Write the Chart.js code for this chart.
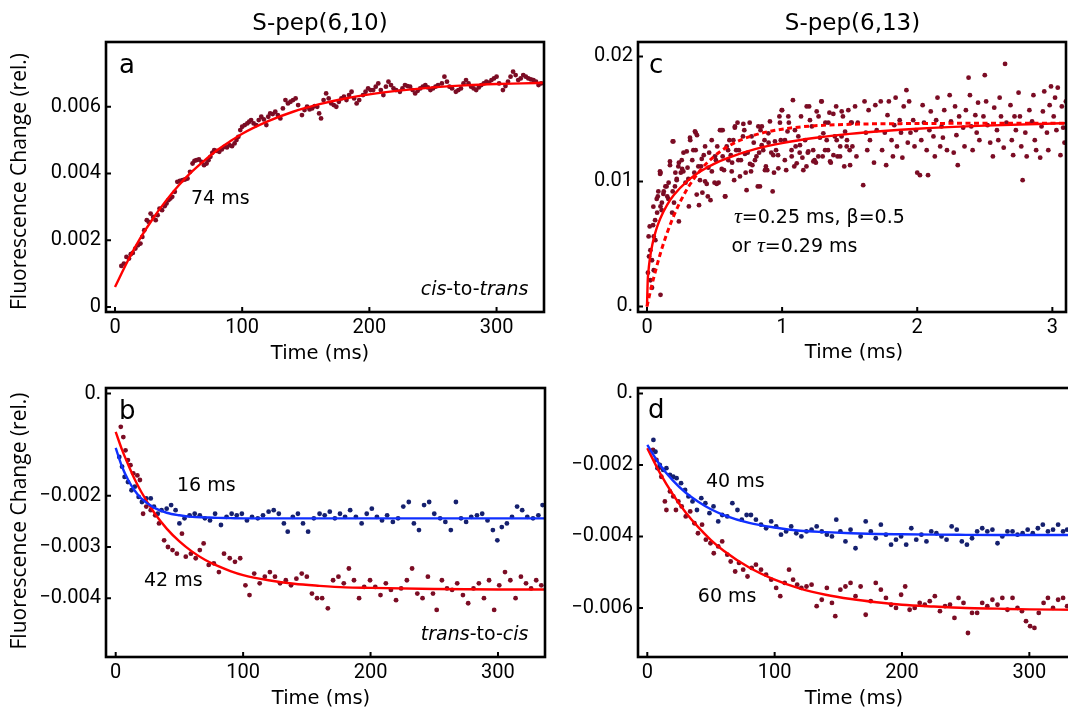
<!DOCTYPE html>
<html lang="en">
<head>
<meta charset="UTF-8">
<title>S-pep fluorescence kinetics</title>
<script src="https://cdn.jsdelivr.net/npm/chart.js"></script>
<style>
  html, body { margin: 0; padding: 0; background: #fff; overflow: hidden; }
  body { width: 1068px; height: 708px; position: relative; }
  canvas { position: absolute; }
</style>
</head>
<body>
<canvas id="panelA"></canvas>
<canvas id="panelB"></canvas>
<canvas id="panelC"></canvas>
<canvas id="panelD"></canvas>

<script>
// all signal values are in units of 1e-3 (fluorescence change, rel.)

// tick positions and labels
var msTicks = [0, 100, 200, 300];
var msTickLabels = ['0', '100', '200', '300'];
var cXTicks = [0, 1, 2, 3];
var cXTickLabels = ['0', '1', '2', '3'];
var aYTicks = [0, 2, 4, 6];
var aYTickLabels = ['0', '0.002', '0.004', '0.006'];
var bYTicks = [-4, -3, -2, 0];
var bYTickLabels = ['\u22120.004', '\u22120.003', '\u22120.002', '0.'];
var cYTicks = [0, 10, 20];
var cYTickLabels = ['0.', '0.01', '0.02'];
var dYTicks = [-6, -4, -2, 0];
var dYTickLabels = ['\u22120.006', '\u22120.004', '\u22120.002', '0.'];

// panel a: cis-to-trans, S-pep(6,10)  [time ms, signal]
var aData = [[5,1.23],[7,1.30],[9,1.5],[11,1.45],[12.4,1.58],[14,1.62],[16,1.75],[18,1.85],[20,1.9],[21.5,2.1],
  [23,2.3],[25,2.6],[26.5,2.55],[28,2.8],[30,2.7],[32,2.6],[33.5,2.75],[35,2.95],[37,2.9],[39,3.02],
  [40.5,3.1],[42,3.2],[43.5,3.25],[45,3.3],[47,3.45],[49,3.75],[51,3.78],[53,3.8],[55,3.82],[57,3.85],
  [59,4.05],[61,4.3],[62.5,4.38],[64,4.4],[66,4.42],[68,4.35],[70,4.25],[72,4.3],[73.5,4.4],[75,4.5],
  [76.5,4.62],[78,4.7],[80,4.68],[82,4.65],[84,4.72],[86,4.8],[88,4.78],[90,4.85],[92,4.82],[94,4.9],
  [95.5,5.0],[97,5.1],[98.5,5.3],[100,5.4],[102,5.45],[104,5.5],[105.5,5.55],[107,5.6],[109,5.5],[111,5.45],
  [113,5.6],[115,5.7],[117,5.62],[119,5.45],[120.5,5.7],[122,5.8],[124,5.78],[126,5.85],[128,5.75],[130,5.65],
  [132,5.95],[134,6.2],[136,6.1],[138,6.15],[140,6.2],[142,6.25],[144,6.05],[147,5.75],[149,5.9],[151,6.0],
  [153,5.92],[155,5.95],[157,6.02],[159,6.0],[160.5,5.8],[162,5.65],[164,6.2],[166,6.4],[168,6.25],[170,6.1],
  [172,6.05],[174,6.0],[176,6.15],[178,6.25],[180,6.3],[182,6.2],[184,6.35],[186,6.45],[188,6.25],[190,6.1],
  [192,6.2],[195,6.35],[197,6.45],[199,6.55],[201,6.5],[203,6.5],[205,6.6],[207,6.7],[209,6.5],[211,6.35],
  [213,6.6],[215,6.75],[217,6.65],[219,6.55],[221,6.5],[224,6.45],[226,6.55],[228,6.65],[230,6.62],[232,6.6],
  [234,6.5],[236,6.4],[238,6.48],[240,6.55],[242,6.6],[244,6.65],[246,6.58],[248,6.5],[250,6.55],[252,6.6],
  [254,6.65],[257,6.7],[259,6.9],[261,6.75],[263,6.6],[265,6.55],[268,6.45],[270,6.5],[272,6.55],[274,6.7],
  [276,6.8],[278,6.7],[280,6.6],[282,6.55],[284,6.5],[286,6.58],[288,6.65],[290,6.7],[292,6.75],[294,6.72],
  [296,6.8],[298,6.85],[300,6.9],[302,6.7],[305,6.5],[307,6.62],[309,6.75],[311,6.9],[313,7.05],[315,6.95],
  [317,6.8],[319,6.85],[321,6.95],[323,6.9],[325,6.85],[327,6.82],[329,6.8],[331,6.75],[333,6.65],[335,6.7]];
var aFitTime = [0, 10, 20, 30, 40, 50, 60, 70, 80, 90, 100, 120, 140, 160, 180, 200, 225, 250, 275, 300, 320, 338];
var aFitSignal = [0.60, 1.38, 2.07, 2.66, 3.18, 3.64, 4.04, 4.38, 4.69, 4.95, 5.19, 5.56, 5.85, 6.07, 6.24, 6.37, 6.49, 6.58, 6.64, 6.68, 6.70, 6.72];

// panel b: trans-to-cis, S-pep(6,10)
var bBlue = [[2.8,-1.24],[5,-1.43],[7,-1.63],[9.6,-1.73],[12.4,-1.89],[15,-1.82],[18,-2.02],[20.6,-2.12],[24,-2.05],[27.5,-2.05],
  [30,-2.21],[33,-2.35],[36,-2.28],[40,-2.25],[43.5,-2.18],[47,-2.28],[50,-2.54],[54,-2.44],[58,-2.38],[62,-2.35],
  [66,-2.38],[70,-2.44],[74,-2.48],[78,-2.35],[82.6,-2.57],[87,-2.41],[91,-2.35],[95,-2.38],[99,-2.35],[103,-2.48],
  [107,-2.41],[111.5,-2.44],[115.6,-2.38],[120,-2.31],[124,-2.28],[128,-2.35],[132,-2.54],[135,-2.70],[139,-2.41],[143,-2.35],
  [147,-2.54],[151,-2.70],[155.5,-2.44],[160,-2.35],[164,-2.38],[168,-2.31],[172,-2.44],[176,-2.35],[180,-2.41],[184,-2.28],
  [188.5,-2.41],[193,-2.54],[197,-2.35],[201,-2.25],[205,-2.41],[209,-2.48],[213,-2.38],[217.5,-2.51],[221.6,-2.44],[225.7,-2.21],
  [230,-2.12],[234,-2.54],[238,-2.67],[242,-2.18],[246,-2.12],[250,-2.35],[254.6,-2.44],[258.7,-2.51],[263,-2.67],[267,-2.12],
  [271,-2.44],[275,-2.51],[279,-2.41],[283.5,-2.38],[287.6,-2.35],[291.8,-2.48],[296,-2.67],[299.5,-2.87],[303,-2.61],[307,-2.54],
  [311,-2.41],[315,-2.21],[319,-2.28],[323,-2.41],[327.5,-2.44],[331.7,-2.38],[335,-2.18]];
var bRed = [[4,-0.65],[6,-0.85],[7.7,-1.11],[9.6,-1.30],[11.6,-1.40],[13.8,-1.56],[17,-1.60],[19,-1.69],[21.5,-2.35],[24,-2.21],
  [27.5,-2.28],[31,-2.38],[34,-2.54],[38,-2.87],[41,-3.0],[44.6,-3.06],[48,-3.13],[52,-2.74],[55,-3.19],[59,-3.13],
  [62.8,-3.22],[66,-3.06],[69,-2.93],[73,-3.35],[77,-3.32],[81,-3.49],[85,-3.13],[89.5,-3.22],[93.6,-3.29],[97.7,-3.22],
  [101.8,-3.75],[105,-3.94],[108.7,-3.52],[113,-3.71],[117,-3.58],[121,-3.49],[125,-3.58],[129,-3.71],[133.5,-3.65],[137.6,-3.75],
  [141.8,-3.62],[146,-3.52],[150,-3.58],[154,-3.91],[158,-4.0],[162,-4.0],[166.5,-4.2],[170.6,-3.65],[174.8,-3.58],[179,-3.71],
  [183,-3.42],[187,-3.65],[191,-4.0],[195,-3.78],[199.6,-3.65],[203.7,-3.78],[207.8,-3.94],[212,-3.71],[216,-3.84],[220,-4.04],
  [224,-3.81],[228.5,-3.65],[232.6,-3.42],[236.7,-3.91],[240.8,-4.0],[245,-3.58],[249,-3.91],[251.9,-4.23],[256,-3.65],[260,-3.81],
  [264,-3.84],[268,-3.71],[272.5,-3.94],[276.6,-4.10],[280.8,-3.81],[285,-3.71],[289,-4.0],[293,-3.65],[297,-4.23],[301,-3.75],
  [305.5,-3.49],[309.7,-3.65],[313.8,-4.0],[318,-3.58],[322,-3.71],[326,-3.81],[330,-3.65],[334,-3.75]];
var bFitTime = [0, 5, 10, 15, 20, 30, 40, 50, 60, 70, 80, 90, 100, 120, 140, 160, 180, 200, 250, 300, 338];
var bRedFit = [-0.75, -1.10, -1.40, -1.68, -1.92, -2.32, -2.64, -2.89, -3.09, -3.25, -3.37, -3.47, -3.55, -3.65, -3.72, -3.76, -3.79, -3.80, -3.82, -3.83, -3.83];
var bBlueFit = [-1.06, -1.43, -1.70, -1.90, -2.05, -2.23, -2.33, -2.38, -2.41, -2.42, -2.43, -2.435, -2.44, -2.44, -2.44, -2.44, -2.44, -2.44, -2.44, -2.44, -2.44];

// panel c: cis-to-trans, S-pep(6,13), time in ms
var cData = [[0.007,2.7],[0.012,5.6],[0.015,4.0],[0.02,6.4],[0.025,4.5],[0.025,2.1],[0.037,3.7],[0.037,1.5],[0.045,6.5],[0.05,5.6],
  [0.05,2.9],[0.06,6.9],[0.062,5.3],[0.075,7.5],[0.08,8.8],[0.097,10.6],[0.1,0.93],[0.1,8.0],[0.1,10.7],[0.11,8.3],
  [0.124,9.2],[0.136,9.6],[0.15,8.8],[0.16,9.9],[0.17,11.3],[0.186,7.5],[0.19,9.2],[0.19,13.2],[0.2,8.3],[0.21,10.7],
  [0.22,10.1],[0.236,6.8],[0.236,11.5],[0.25,10.7],[0.26,11.0],[0.27,12.3],[0.285,9.9],[0.3,11.1],[0.31,8.0],[0.32,13.3],
  [0.335,11.7],[0.35,10.7],[0.36,12.5],[0.36,13.9],[0.37,13.7],[0.385,8.1],[0.4,11.2],[0.41,9.1],[0.42,12.1],[0.43,10.0],
  [0.45,8.8],[0.46,12.3],[0.47,8.5],[0.48,10.8],[0.5,9.9],[0.51,11.7],[0.52,12.8],[0.53,9.9],[0.55,14.1],[0.56,12.0],
  [0.56,14.1],[0.57,10.9],[0.58,8.8],[0.6,12.5],[0.61,13.3],[0.62,12.1],[0.63,11.5],[0.645,10.1],[0.65,14.3],[0.66,12.5],
  [0.67,14.7],[0.68,12.5],[0.695,11.7],[0.71,13.6],[0.72,14.1],[0.73,10.7],[0.745,12.3],[0.76,14.7],[0.77,10.8],[0.78,11.3],
  [0.79,13.1],[0.81,12.0],[0.82,9.6],[0.83,12.3],[0.84,14.1],[0.85,14.4],[0.86,12.5],[0.87,13.3],[0.88,11.2],[0.89,10.9],
  [0.9,13.1],[0.92,12.3],[0.93,9.2],[0.94,10.7],[0.955,12.5],[0.97,12.1],[0.98,15.2],[0.99,13.3],[1.0,15.7],[1.02,11.7],
  [1.03,10.9],[1.04,14.0],[1.05,14.7],[1.07,12.5],[1.08,16.5],[1.09,11.2],[1.1,12.8],[1.12,13.6],[1.13,12.3],[1.14,15.2],
  [1.15,11.9],[1.17,13.3],[1.18,11.2],[1.19,12.3],[1.2,16.0],[1.22,14.4],[1.23,12.5],[1.24,11.7],[1.25,11.5],[1.27,15.2],
  [1.28,13.5],[1.29,16.4],[1.3,12.0],[1.32,14.7],[1.33,13.3],[1.34,12.5],[1.35,15.5],[1.36,11.5],[1.38,12.1],[1.39,13.6],
  [1.4,16.0],[1.41,12.0],[1.43,12.8],[1.44,13.6],[1.45,15.2],[1.46,11.2],[1.48,13.3],[1.49,15.7],[1.5,12.5],[1.51,14.7],
  [0.047,7.98],[0.096,10.8],[0.084,9.2],[0.121,9.0],[0.145,9.6],[0.158,8.6],[0.17,11.6],[0.195,13.2],[0.207,9.6],[0.22,10.2],
  [0.232,11.2],[0.257,11.7],[0.269,10.8],[0.294,12.4],[0.306,10.2],[0.318,13.5],[0.343,12.5],[0.355,14.0],[0.368,8.95],[0.38,11.2],
  [0.392,10.1],[0.405,11.8],[0.43,12.8],[0.442,9.8],[0.454,11.1],[0.479,13.3],[0.503,12.0],[0.516,9.8],[0.54,14.1],[0.553,11.0],
  [0.577,8.8],[0.59,12.8],[0.602,11.7],[0.627,10.8],[0.639,13.3],[0.651,14.4],[0.676,11.7],[0.688,10.4],[0.713,14.6],[0.725,12.2],
  [0.737,9.3],[0.762,11.4],[0.774,13.6],[0.799,11.7],[0.824,14.4],[0.836,9.6],[0.849,12.9],[0.873,10.9],[0.898,13.85],[0.91,14.8],
  [0.935,12.1],[0.947,13.2],[0.972,11.05],[0.984,14.7],[0.997,15.7],[1.021,13.3],[1.046,15.2],[1.071,12.0],[1.095,14.1],[1.108,11.45],
  [1.132,12.9],[1.157,10.9],[1.182,16.0],[1.194,12.4],[1.206,14.9],[1.231,11.6],[1.256,15.6],[1.268,12.0],[1.293,16.4],[1.305,13.85],
  [1.318,12.5],[1.342,14.7],[1.355,11.6],[1.379,15.4],[1.404,13.3],[1.429,12.0],[1.441,15.6],[1.466,13.98],[1.478,12.8],[1.503,11.3],
  [1.515,14.7],[0.109,7.7],[0.072,8.6],
  [1.52,12.8],[1.54,16.0],[1.55,12.0],[1.56,14.7],[1.6,9.7],[1.61,16.4],[1.62,13.9],[1.63,12.5],[1.64,15.7],[1.65,13.3],
  [1.68,11.5],[1.69,16.1],[1.7,14.1],[1.73,16.4],[1.74,12.5],[1.76,13.9],[1.77,11.3],[1.78,15.3],[1.79,16.4],[1.81,13.3],
  [1.82,12.0],[1.83,14.5],[1.84,16.7],[1.85,12.8],[1.87,14.9],[1.88,13.9],[1.89,11.9],[1.9,16.0],[1.92,17.3],[1.93,13.1],
  [1.94,16.4],[1.95,13.9],[1.97,14.9],[1.98,12.8],[1.99,14.1],[2.0,10.7],[2.02,10.5],[2.03,13.3],[2.04,16.1],[2.05,14.7],
  [2.07,12.5],[2.08,10.5],[2.09,14.1],[2.1,15.6],[2.12,13.6],[2.13,12.0],[2.14,14.9],[2.15,16.7],[2.17,12.8],[2.18,14.4],
  [2.19,13.5],[2.2,15.7],[2.22,12.5],[2.24,16.9],[2.25,14.8],[2.27,12.3],[2.28,16.0],[2.29,13.7],[2.3,11.3],[2.31,15.2],
  [2.34,14.3],[2.35,12.8],[2.36,15.7],[2.38,18.3],[2.39,16.9],[2.4,14.4],[2.41,12.5],[2.43,15.3],[2.44,13.9],[2.45,16.3],
  [2.46,13.3],[2.49,15.2],[2.5,18.5],[2.51,16.4],[2.52,14.5],[2.54,13.1],[2.56,12.0],[2.57,15.9],[2.59,14.1],[2.6,13.3],
  [2.61,16.7],[2.62,15.2],[2.64,12.7],[2.65,19.4],[2.66,14.7],[2.69,16.1],[2.7,13.3],[2.71,12.1],[2.72,15.2],[2.73,14.1],
  [2.75,17.1],[2.76,15.2],[2.77,12.8],[2.78,10.1],[2.8,13.9],[2.81,12.0],[2.83,15.7],[2.85,14.8],[2.86,16.9],[2.87,13.3],
  [2.88,12.5],[2.91,11.9],[2.92,14.4],[2.93,15.6],[2.94,17.2],[2.96,13.9],[2.97,12.5],[2.98,16.1],[2.99,17.6],[3.01,15.2],
  [3.02,16.7],[3.03,14.1],[3.04,17.5],[3.06,12.1],[3.07,16.0],[3.08,14.3],[3.09,13.1],[3.1,16.4]];
var cFitTime = [0, 0.005, 0.01, 0.02, 0.04, 0.06, 0.08, 0.1, 0.15, 0.2, 0.3, 0.4, 0.5, 0.6, 0.8, 1.0, 1.25, 1.5, 1.75, 2.0, 2.5, 3.0, 3.11];
var cStretchedFit = [0, 1.99, 2.74, 3.72, 4.98, 5.85, 6.52, 7.08, 8.14, 8.93, 10.05, 10.84, 11.43, 11.89, 12.58, 13.06, 13.49, 13.80, 14.03, 14.21, 14.46, 14.63, 14.66];
var cExpTime = [0, 0.02, 0.05, 0.1, 0.15, 0.2, 0.25, 0.3, 0.4, 0.5, 0.6, 0.7, 0.8, 0.9, 1.0, 1.2, 1.5, 2.0, 2.5, 3.11];
var cExpFit = [0, 0.98, 2.31, 4.28, 5.92, 7.30, 8.46, 9.45, 10.96, 12.04, 12.80, 13.34, 13.72, 13.99, 14.18, 14.42, 14.57, 14.63, 14.65, 14.65];

// panel d: trans-to-cis, S-pep(6,13)
var dBlue = [[4.8,-1.30],[6.4,-1.63],[8,-2.09],[9.8,-2.0],[12.5,-2.14],[15,-2.09],[17.8,-2.28],[20.4,-2.33],[23,-2.37],[26.5,-2.51],
  [29.7,-2.70],[32.3,-2.88],[35.5,-3.02],[39,-3.26],[42.4,-2.93],[45.6,-3.07],[48.8,-3.35],[52,-3.16],[55.7,-3.58],[58.8,-3.40],
  [62.8,-3.44],[66.8,-3.07],[70.8,-3.26],[74.2,-3.53],[78,-3.40],[81.4,-3.40],[85.3,-3.53],[89.3,-3.67],[93.3,-3.77],[97.3,-3.58],
  [101.2,-3.72],[105,-3.95],[109,-3.86],[113,-3.72],[117,-3.91],[121,-4.0],[125,-3.86],[129,-3.81],[133,-3.72],[137,-3.86],
  [141,-3.95],[145,-4.0],[148.4,-3.53],[151.6,-3.86],[155.6,-4.14],[159.6,-3.81],[163.5,-4.33],[167.5,-4.0],[171.5,-3.58],[175.5,-3.86],
  [179.4,-4.05],[183.4,-3.67],[187.4,-3.95],[191.4,-4.23],[195.3,-4.09],[199.3,-4.0],[203.3,-4.23],[207.3,-3.77],[211.2,-4.09],[215.2,-3.95],
  [219.2,-4.14],[223,-3.86],[227,-3.91],[231,-4.0],[235,-4.09],[239,-3.72],[243,-3.81],[247,-4.14],[251,-4.23],[255,-4.05],
  [259,-3.86],[263,-3.77],[267,-3.86],[271,-3.81],[275,-4.19],[278.8,-4.0],[282.8,-3.86],[286.8,-3.86],[290.7,-3.95],[294.7,-3.91],
  [298.7,-3.81],[302.7,-3.91],[306.7,-3.77],[310.6,-3.67],[314.6,-3.86],[318.6,-3.81],[322.6,-3.67],[326.5,-3.86],[329.7,-3.81]];
var dRed = [[4.5,-1.58],[7.2,-1.86],[9,-2.09],[11,-2.33],[13.8,-3.02],[15,-3.26],[17.8,-2.74],[20.4,-2.88],[22.5,-3.26],[24.4,-3.02],
  [27,-3.16],[30.2,-3.44],[33.7,-3.30],[37,-3.63],[39.8,-3.91],[43,-3.67],[46,-4.09],[49.6,-4.19],[52.2,-4.47],[55.7,-4.28],
  [58.8,-4.14],[62.8,-4.51],[65.5,-4.70],[69,-4.98],[72,-4.74],[75.3,-4.93],[78.7,-5.12],[82,-4.88],[85.3,-4.79],[89.3,-4.93],
  [93.3,-5.07],[97.3,-5.21],[101.2,-5.44],[104.4,-5.67],[107.9,-5.30],[111.3,-4.93],[114.5,-5.21],[117.7,-5.35],[121,-5.44],[125,-5.40],
  [129,-5.35],[133,-5.95],[137,-5.77],[141,-5.44],[145,-5.86],[147.6,-6.23],[151.6,-5.49],[155.6,-5.40],[159.6,-5.30],[163.5,-5.67],
  [167.5,-5.40],[171.5,-6.19],[175.5,-5.81],[179.4,-5.30],[183.4,-5.49],[187.4,-5.72],[191.4,-5.91],[195.3,-6.0],[199.3,-5.63],[202.5,-5.40],
  [206,-6.05],[210,-6.0],[213.9,-5.86],[217.9,-5.91],[221.8,-5.81],[225.8,-5.67],[229.8,-6.09],[233.8,-5.95],[237.7,-5.91],[241.2,-6.28],
  [244.4,-5.72],[248.3,-5.86],[251.8,-6.70],[255,-6.14],[259,-6.14],[263,-5.86],[267,-5.95],[271,-5.77],[275,-5.91],[278.8,-5.72],
  [282.8,-6.05],[286.8,-5.72],[290.7,-6.0],[294.2,-6.09],[297.4,-6.37],[300.6,-6.51],[304,-6.56],[307.4,-6.14],[311.2,-5.86],[314.6,-5.72],
  [318.6,-6.0],[322.6,-5.77],[326.5,-5.72],[329.7,-5.95]];
var dFitTime = [0, 10, 20, 30, 40, 50, 60, 80, 100, 120, 140, 160, 180, 200, 225, 250, 275, 300, 334];
var dBlueFit = [-1.44, -2.00, -2.43, -2.77, -3.03, -3.24, -3.40, -3.62, -3.75, -3.84, -3.88, -3.91, -3.93, -3.94, -3.95, -3.955, -3.958, -3.959, -3.96];
var dRedFit = [-1.53, -2.23, -2.82, -3.32, -3.74, -4.10, -4.40, -4.87, -5.21, -5.46, -5.63, -5.75, -5.84, -5.91, -5.96, -6.00, -6.02, -6.04, -6.05];

var DOT_RED = '#7b0c24', DOT_BLUE = '#15206e', FIT_RED = '#ff0000', FIT_BLUE = '#1030ff';
var TITLE = '23px "DejaVu Sans"', AXIS = '19.5px "DejaVu Sans"', YAXIS = '21px "Open Sans"';
var LETTER = '26px "DejaVu Sans"', ANN = '19px "DejaVu Sans"', ANN_I = 'italic 19px "DejaVu Sans"';
var TAU = 'italic 22px "Liberation Serif"';

function dots(pairs, color) {
    return {
        data: pairs.map(function (p) { return { x: p[0], y: p[1] }; }),
        backgroundColor: color, borderWidth: 0, pointRadius: 2.4, order: 2
    };
}

function fit(xs, ys, color, dash) {
    return {
        data: xs.map(function (x, i) { return { x: x, y: ys[i] }; }),
        showLine: true, pointRadius: 0, borderColor: color, borderWidth: dash ? 3 : 2.4,
        borderDash: dash || [], cubicInterpolationMode: 'monotone', fill: false, order: 1
    };
}

function drawParts(ctx, x, y, align, parts) {
    var w = 0;
    parts.forEach(function (p) { ctx.font = p[1]; w += ctx.measureText(p[0]).width; });
    var cx = align === 'center' ? x - w / 2 : (align === 'right' ? x - w : x);
    ctx.textAlign = 'left';
    ctx.textBaseline = 'alphabetic';
    parts.forEach(function (p) {
        ctx.font = p[1];
        ctx.fillText(p[0], cx, y);
        cx += ctx.measureText(p[0]).width;
    });
}

// frame, inward ticks and text labels
var framePlugin = {
    id: 'frame',
    afterDatasetsDraw: function (chart) {
        var a = chart.chartArea, ctx = chart.ctx;
        var xs = chart.scales.x, ys = chart.scales.y;
        var opt = chart.options.plugins.frame;
        ctx.save();
        ctx.strokeStyle = '#000';
        ctx.lineWidth = 2;
        ctx.beginPath();
        xs.ticks.forEach(function (t) {
            var px = xs.getPixelForValue(t.value);
            ctx.moveTo(px, a.bottom); ctx.lineTo(px, a.bottom - 5);
        });
        ys.ticks.forEach(function (t) {
            var py = ys.getPixelForValue(t.value);
            ctx.moveTo(a.left, py); ctx.lineTo(a.left + 5, py);
        });
        ctx.stroke();
        ctx.lineWidth = 2.6;
        ctx.strokeRect(a.left, a.top, a.right - a.left, a.bottom - a.top);

        ctx.fillStyle = '#000';
        opt.dataText.forEach(function (t) {
            drawParts(ctx, xs.getPixelForValue(t.x), ys.getPixelForValue(t.y), t.align || 'left', t.parts);
        });
        opt.pageText.forEach(function (t) {
            var x = t.x - opt.origin.x, y = t.y - opt.origin.y;
            if (t.rot) {
                ctx.save();
                ctx.translate(x, y);
                ctx.rotate(-Math.PI / 2);
                drawParts(ctx, 0, 0, 'center', t.parts);
                ctx.restore();
            } else {
                drawParts(ctx, x, y, t.align || 'center', t.parts);
            }
        });
        ctx.restore();
    }
};

function makePanel(id, p) {
    var canvas = document.getElementById(id);
    var padL = p.frame.l - p.origin.x, padT = p.frame.t - p.origin.y;
    canvas.width = p.frame.r + 10 - p.origin.x;
    canvas.height = p.frame.b + 56 - p.origin.y;
    canvas.style.left = p.origin.x + 'px';
    canvas.style.top = p.origin.y + 'px';
    var tickFont = { family: 'Roboto', size: 20 };
    return new Chart(canvas, {
        type: 'scatter',
        data: { datasets: p.datasets },
        options: {
            responsive: false,
            animation: false,
            events: [],
            layout: { padding: { top: padT, right: 10, left: 0, bottom: 0 } },
            plugins: {
                legend: { display: false },
                tooltip: { enabled: false },
                frame: { origin: p.origin, pageText: p.pageText, dataText: p.dataText }
            },
            scales: {
                x: {
                    type: 'linear', min: p.xRange[0], max: p.xRange[1],
                    grid: { display: false, drawTicks: false }, border: { display: false },
                    ticks: { padding: 4, font: tickFont, color: '#000', autoSkip: false, maxRotation: 0,
                        callback: function (v, i) { return p.xLabels[i]; } },
                    afterBuildTicks: function (s) { s.ticks = p.xTicks.map(function (v) { return { value: v }; }); },
                    afterFit: function (s) { s.height = 56; }
                },
                y: {
                    type: 'linear', min: p.yRange[0], max: p.yRange[1],
                    grid: { display: false, drawTicks: false }, border: { display: false },
                    ticks: { padding: 5, font: tickFont, color: '#000', autoSkip: false,
                        callback: function (v, i) { return p.yLabels[i]; } },
                    afterBuildTicks: function (s) { s.ticks = p.yTicks.map(function (v) { return { value: v }; }); },
                    afterFit: function (s) { s.width = padL; }
                }
            }
        },
        plugins: [framePlugin]
    });
}

var yTitle = 'Fluorescence Change (rel.)';

makePanel('panelA', {
    origin: { x: 0, y: 0 }, frame: { l: 106, t: 42, r: 544, b: 312 },
    xRange: [-7.08, 337.3], yRange: [-0.15, 7.94],
    xTicks: msTicks, xLabels: msTickLabels, yTicks: aYTicks, yLabels: aYTickLabels,
    datasets: [fit(aFitTime, aFitSignal, FIT_RED), dots(aData, DOT_RED)],
    pageText: [
        { x: 320, y: 30, parts: [['S-pep(6,10)', TITLE]] },
        { x: 320, y: 358.5, parts: [['Time (ms)', AXIS]] },
        { x: 25.5, y: 181.5, rot: true, parts: [[yTitle, YAXIS]] }
    ],
    dataText: [
        { x: 3.1, y: 7.01, parts: [['a', LETTER]] },
        { x: 59.7, y: 3.08, parts: [['74 ms', ANN]] },
        { x: 325, y: 0.35, align: 'right', parts: [['cis', ANN_I], ['-to-', ANN], ['trans', ANN_I]] }
    ]
});

makePanel('panelB', {
    origin: { x: 0, y: 366 }, frame: { l: 106, t: 388, r: 545, b: 657 },
    xRange: [-7.61, 336.9], yRange: [-5.151, 0.109],
    xTicks: msTicks, xLabels: msTickLabels, yTicks: bYTicks, yLabels: bYTickLabels,
    datasets: [fit(bFitTime, bBlueFit, FIT_BLUE), fit(bFitTime, bRedFit, FIT_RED),
        dots(bBlue, DOT_BLUE), dots(bRed, DOT_RED)],
    pageText: [
        { x: 321, y: 704, parts: [['Time (ms)', AXIS]] },
        { x: 25.5, y: 521, rot: true, parts: [[yTitle, YAXIS]] }
    ],
    dataText: [
        { x: 2.6, y: -0.488, parts: [['b', LETTER]] },
        { x: 48.1, y: -1.9, parts: [['16 ms', ANN]] },
        { x: 22.2, y: -3.76, parts: [['42 ms', ANN]] },
        { x: 323.9, y: -4.827, align: 'right', parts: [['trans', ANN_I], ['-to-', ANN], ['cis', ANN_I]] }
    ]
});

makePanel('panelC', {
    origin: { x: 560, y: 0 }, frame: { l: 638, t: 42, r: 1066, b: 312 },
    xRange: [-0.0666, 3.101], yRange: [-0.44, 21.15],
    xTicks: cXTicks, xLabels: cXTickLabels, yTicks: cYTicks, yLabels: cYTickLabels,
    datasets: [fit(cFitTime, cStretchedFit, FIT_RED), fit(cExpTime, cExpFit, FIT_RED, [5, 3.5]),
        dots(cData, DOT_RED)],
    pageText: [
        { x: 852.5, y: 30, parts: [['S-pep(6,13)', TITLE]] },
        { x: 854, y: 358, parts: [['Time (ms)', AXIS]] }
    ],
    dataText: [
        { x: 0.015, y: 18.67, parts: [['c', LETTER]] },
        { x: 0.643, y: 6.645, parts: [['\u03c4', TAU], ['=0.25 ms, \u03b2=0.5', ANN]] },
        { x: 0.625, y: 4.369, parts: [['or ', ANN], ['\u03c4', TAU], ['=0.29 ms', ANN]] }
    ]
});

makePanel('panelD', {
    origin: { x: 560, y: 366 }, frame: { l: 638, t: 388, r: 1072, b: 657 },
    xRange: [-7.3, 333.5], yRange: [-7.372, 0.153],
    xTicks: msTicks, xLabels: msTickLabels, yTicks: dYTicks, yLabels: dYTickLabels,
    datasets: [fit(dFitTime, dBlueFit, FIT_BLUE), fit(dFitTime, dRedFit, FIT_RED),
        dots(dBlue, DOT_BLUE), dots(dRed, DOT_RED)],
    pageText: [
        { x: 854, y: 703.5, parts: [['Time (ms)', AXIS]] }
    ],
    dataText: [
        { x: 0.5, y: -0.689, parts: [['d', LETTER]] },
        { x: 46.1, y: -2.63, parts: [['40 ms', ANN]] },
        { x: 39.7, y: -5.82, parts: [['60 ms', ANN]] }
    ]
});
</script>
</body>
</html>
